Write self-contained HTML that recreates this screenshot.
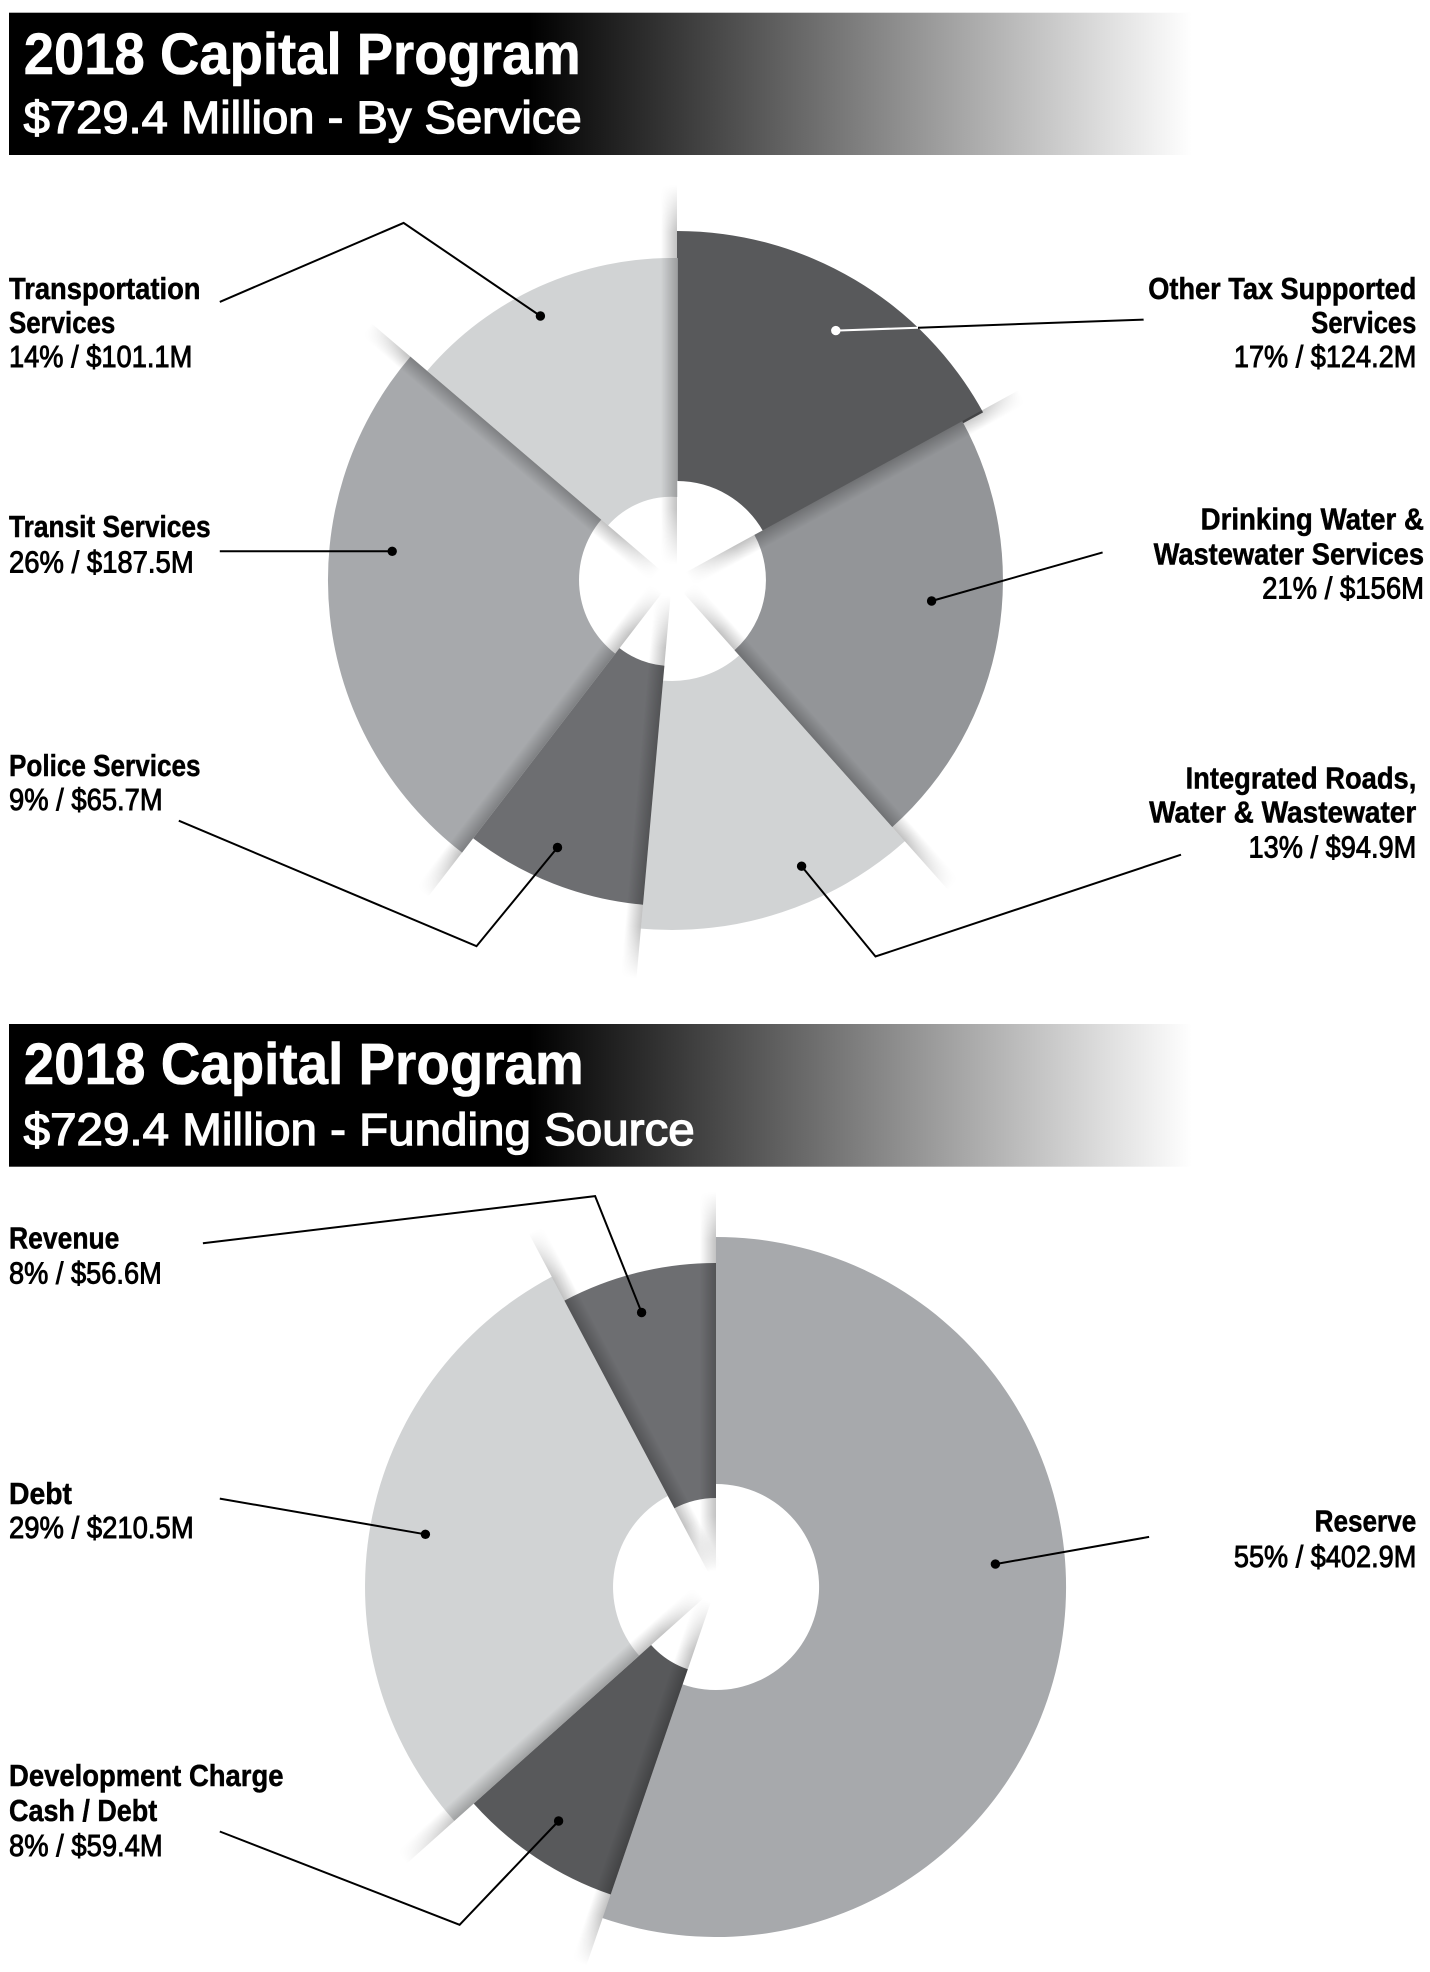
<!DOCTYPE html>
<html>
<head>
<meta charset="utf-8">
<style>
html,body{margin:0;padding:0;background:#fff;}
svg{display:block;}
text{font-family:"Liberation Sans",Arial,sans-serif;}
</style>
</head>
<body>
<svg width="1430" height="1972" viewBox="0 0 1430 1972" xmlns="http://www.w3.org/2000/svg">
<defs>
  <linearGradient id="hdr" gradientUnits="userSpaceOnUse" x1="9" y1="0" x2="1192" y2="0">
    <stop offset="0" stop-color="#000"/>
    <stop offset="0.44" stop-color="#000"/>
    <stop offset="1" stop-color="#fff"/>
  </linearGradient>
  <linearGradient id="shL" x1="0" y1="0" x2="1" y2="0">
    <stop offset="0" stop-color="#000" stop-opacity="0"/>
    <stop offset="1" stop-color="#000" stop-opacity="0.24"/>
  </linearGradient>
  <linearGradient id="shR" x1="0" y1="0" x2="1" y2="0">
    <stop offset="0" stop-color="#000" stop-opacity="0.24"/>
    <stop offset="1" stop-color="#000" stop-opacity="0"/>
  </linearGradient>

  <linearGradient id="f1" gradientUnits="userSpaceOnUse" x1="0" y1="0" x2="0" y2="-395">
    <stop offset="0.04" stop-color="#000"/><stop offset="0.18" stop-color="#fff"/><stop offset="0.88" stop-color="#fff"/><stop offset="1" stop-color="#000"/>
  </linearGradient>
  <mask id="m1" maskUnits="userSpaceOnUse" x="-30" y="-420" width="60" height="420"><rect x="-30" y="-395" width="60" height="395" fill="url(#f1)"/></mask>

  <linearGradient id="f2" gradientUnits="userSpaceOnUse" x1="0" y1="0" x2="0" y2="-415">
    <stop offset="0.04" stop-color="#000"/><stop offset="0.17" stop-color="#fff"/><stop offset="0.84" stop-color="#fff"/><stop offset="1" stop-color="#000"/>
  </linearGradient>
  <mask id="m2" maskUnits="userSpaceOnUse" x="-30" y="-440" width="60" height="440"><rect x="-30" y="-415" width="60" height="415" fill="url(#f2)"/></mask>

  <linearGradient id="f3" gradientUnits="userSpaceOnUse" x1="0" y1="0" x2="0" y2="-400">
    <stop offset="0.04" stop-color="#000"/><stop offset="0.17" stop-color="#fff"/><stop offset="0.87" stop-color="#fff"/><stop offset="1" stop-color="#000"/>
  </linearGradient>
  <mask id="m3" maskUnits="userSpaceOnUse" x="-30" y="-425" width="60" height="425"><rect x="-30" y="-400" width="60" height="400" fill="url(#f3)"/></mask>
</defs>

<!-- ===== Header 1 ===== -->
<rect x="9" y="12.7" width="1183" height="142.3" fill="url(#hdr)"/>
<text x="23.7" y="74" font-size="58" font-weight="bold" fill="#fff" stroke="#fff" stroke-width="0.6" textLength="557" lengthAdjust="spacingAndGlyphs">2018 Capital Program</text>
<text x="23.7" y="133" font-size="45" fill="#fff" stroke="#fff" stroke-width="1.3" textLength="558" lengthAdjust="spacingAndGlyphs">$729.4 Million - By Service</text>

<!-- ===== Chart 1 segments ===== -->
<path transform="translate(5,0)" d="M672,481 L672,231 A349,349 0 0 1 978.1,412.4 L758.8,532.5 A99,99 0 0 0 672,481 Z" fill="#58595b"/>
<path d="M754.4,534.9 L962.3,421.1 A331,331 0 0 1 892.2,827.1 L734.5,650.2 A94,94 0 0 0 754.4,534.9 Z" fill="#939598"/>
<path d="M739.2,655.4 L904.8,841.3 A350,350 0 0 1 640.9,928.6 L663.0,680.6 A101,101 0 0 0 739.2,655.4 Z" fill="#d1d3d4"/>
<path d="M664.4,665.7 L643.0,904.7 A326,326 0 0 1 473.1,838.3 L619.5,648.1 A86,86 0 0 0 664.4,665.7 Z" fill="#6d6e71"/>
<path d="M615.3,653.7 L462.1,852.6 A344,344 0 0 1 410.4,356.6 L601.3,519.6 A93,93 0 0 0 615.3,653.7 Z" fill="#a7a9ac"/>
<path d="M608.1,525.4 L427.1,370.9 A322,322 0 0 1 677.5,258 L677.5,497 A84,84 0 0 0 608.1,525.4 Z" fill="#d1d3d4"/>

<!-- Chart 1 shadow rays -->
<g transform="translate(677,580) rotate(0)"><rect x="-16" y="-395" width="16" height="380" fill="url(#shL)" mask="url(#m1)"/></g>
<g transform="translate(672,580) rotate(61.3)"><rect x="0" y="-395" width="16" height="380" fill="url(#shR)" mask="url(#m1)"/></g>
<g transform="translate(672,580) rotate(138.3)"><rect x="-16" y="-415" width="16" height="400" fill="url(#shL)" mask="url(#m2)"/></g>
<g transform="translate(672,580) rotate(185.1)"><rect x="0" y="-400" width="16" height="385" fill="url(#shR)" mask="url(#m3)"/></g>
<g transform="translate(672,580) rotate(217.6)"><rect x="0" y="-400" width="16" height="385" fill="url(#shR)" mask="url(#m3)"/></g>
<g transform="translate(672,580) rotate(310.5)"><rect x="-16" y="-395" width="16" height="380" fill="url(#shL)" mask="url(#m1)"/></g>

<!-- Chart 1 leaders -->
<g fill="none" stroke="#000" stroke-width="2">
  <polyline points="219.8,301.9 403.6,222.9 540.4,316"/>
  <polyline points="219.8,551.3 392.2,551.3"/>
  <polyline points="178.8,820.7 476.5,946.2 557.5,847.5"/>
  <polyline points="918,327.7 1143.6,319.6"/>
  <polyline points="931.6,601 1102.6,552.4"/>
  <polyline points="801.6,866.2 875.5,956.5 1181,854.7"/>
</g>
<line x1="835.8" y1="330.6" x2="918" y2="327.7" stroke="#fff" stroke-width="2"/>
<g fill="#000">
  <circle cx="540.4" cy="316" r="4.7"/>
  <circle cx="392.2" cy="551.3" r="4.7"/>
  <circle cx="557.5" cy="847.5" r="4.7"/>
  <circle cx="931.6" cy="601" r="4.7"/>
  <circle cx="801.6" cy="866.2" r="4.7"/>
</g>
<circle cx="835.8" cy="330.6" r="4.7" fill="#fff"/>

<!-- Chart 1 labels -->
<g font-size="30.5" fill="#000">
  <g font-weight="bold" stroke="#000" stroke-width="0.5">
  <text x="9" y="299.2" textLength="191.5" lengthAdjust="spacingAndGlyphs">Transportation</text>
  <text x="9" y="333.2" textLength="106.3" lengthAdjust="spacingAndGlyphs">Services</text>
  <text x="9" y="537.2" textLength="201.6" lengthAdjust="spacingAndGlyphs">Transit Services</text>
  <text x="9" y="776.2" textLength="191.5" lengthAdjust="spacingAndGlyphs">Police Services</text>
  <text x="1148.3" y="299.2" textLength="268" lengthAdjust="spacingAndGlyphs">Other Tax Supported</text>
  <text x="1311.3" y="333.2" textLength="105" lengthAdjust="spacingAndGlyphs">Services</text>
  <text x="1200.6" y="529.4" textLength="223.4" lengthAdjust="spacingAndGlyphs">Drinking Water &amp;</text>
  <text x="1153.6" y="564.4" textLength="270.4" lengthAdjust="spacingAndGlyphs">Wastewater Services</text>
  <text x="1185.6" y="788.3" textLength="230.7" lengthAdjust="spacingAndGlyphs">Integrated Roads,</text>
  <text x="1149.1" y="822.3" textLength="267.2" lengthAdjust="spacingAndGlyphs">Water &amp; Wastewater</text>
  </g>
  <g stroke="#000" stroke-width="0.9">
  <text x="9" y="367.2" textLength="183.3" lengthAdjust="spacingAndGlyphs">14% / $101.1M</text>
  <text x="9" y="572.3" textLength="184.7" lengthAdjust="spacingAndGlyphs">26% / $187.5M</text>
  <text x="9" y="810.2" textLength="153.7" lengthAdjust="spacingAndGlyphs">9% / $65.7M</text>
  <text x="1233.9" y="367.2" textLength="182.4" lengthAdjust="spacingAndGlyphs">17% / $124.2M</text>
  <text x="1262.1" y="598.4" textLength="161.9" lengthAdjust="spacingAndGlyphs">21% / $156M</text>
  <text x="1248.5" y="857.3" textLength="167.8" lengthAdjust="spacingAndGlyphs">13% / $94.9M</text>
  </g>
</g>

<!-- ===== Header 2 ===== -->
<rect x="9" y="1024" width="1183" height="142.7" fill="url(#hdr)"/>
<text x="23.7" y="1084" font-size="58" font-weight="bold" fill="#fff" stroke="#fff" stroke-width="0.6" textLength="560" lengthAdjust="spacingAndGlyphs">2018 Capital Program</text>
<text x="23.7" y="1145" font-size="45" fill="#fff" stroke="#fff" stroke-width="1.3" textLength="671" lengthAdjust="spacingAndGlyphs">$729.4 Million - Funding Source</text>

<!-- ===== Chart 2 segments ===== -->
<path d="M716,1484 L716,1237 A350,350 0 1 1 602.6,1918.1 L682.6,1684.4 A103,103 0 1 0 716,1484 Z" fill="#a7a9ac"/>
<path d="M687.8,1669.3 L610.7,1894.5 A325,325 0 0 1 473.7,1803.6 L651.1,1645.0 A87,87 0 0 0 687.8,1669.3 Z" fill="#58595b"/>
<path d="M639.2,1655.6 L454.3,1820.9 A351,351 0 0 1 551.8,1276.8 L667.8,1496.0 A103,103 0 0 0 639.2,1655.6 Z" fill="#d1d3d4"/>
<path d="M674.4,1508.3 L564.4,1300.6 A324,324 0 0 1 716,1263 L716,1498 A89,89 0 0 0 674.4,1508.3 Z" fill="#6d6e71"/>

<!-- Chart 2 shadow rays -->
<g transform="translate(716,1587) rotate(0)"><rect x="-16" y="-395" width="16" height="380" fill="url(#shL)" mask="url(#m1)"/></g>
<g transform="translate(716,1587) rotate(332.1)"><rect x="0" y="-400" width="16" height="385" fill="url(#shR)" mask="url(#m3)"/></g>
<g transform="translate(716,1587) rotate(228.2)"><rect x="0" y="-415" width="16" height="400" fill="url(#shR)" mask="url(#m2)"/></g>
<g transform="translate(716,1587) rotate(198.9)"><rect x="0" y="-400" width="16" height="385" fill="url(#shR)" mask="url(#m3)"/></g>

<!-- Chart 2 leaders -->
<g fill="none" stroke="#000" stroke-width="2">
  <polyline points="202.9,1243.3 595.1,1196.1 641.6,1312.5"/>
  <polyline points="219.8,1498.6 425.4,1534.3"/>
  <polyline points="219.8,1831.5 459.6,1924.8 558.6,1821"/>
  <polyline points="995.4,1564.1 1149.1,1536.9"/>
</g>
<g fill="#000">
  <circle cx="641.6" cy="1312.5" r="4.7"/>
  <circle cx="425.4" cy="1534.3" r="4.7"/>
  <circle cx="558.6" cy="1821" r="4.7"/>
  <circle cx="995.4" cy="1564.1" r="4.7"/>
</g>

<!-- Chart 2 labels -->
<g font-size="30.5" fill="#000">
  <g font-weight="bold" stroke="#000" stroke-width="0.5">
  <text x="9" y="1248.6" textLength="110.4" lengthAdjust="spacingAndGlyphs">Revenue</text>
  <text x="9" y="1503.8" textLength="63" lengthAdjust="spacingAndGlyphs">Debt</text>
  <text x="9" y="1785.9" textLength="274.5" lengthAdjust="spacingAndGlyphs">Development Charge</text>
  <text x="9" y="1821" textLength="148.2" lengthAdjust="spacingAndGlyphs">Cash / Debt</text>
  <text x="1314.6" y="1531.6" textLength="101.7" lengthAdjust="spacingAndGlyphs">Reserve</text>
  </g>
  <g stroke="#000" stroke-width="0.9">
  <text x="9" y="1283.7" textLength="152.8" lengthAdjust="spacingAndGlyphs">8% / $56.6M</text>
  <text x="9" y="1537.9" textLength="184.7" lengthAdjust="spacingAndGlyphs">29% / $210.5M</text>
  <text x="9" y="1856.1" textLength="153.7" lengthAdjust="spacingAndGlyphs">8% / $59.4M</text>
  <text x="1233.9" y="1566.8" textLength="182.4" lengthAdjust="spacingAndGlyphs">55% / $402.9M</text>
  </g>
</g>
</svg>
</body>
</html>
